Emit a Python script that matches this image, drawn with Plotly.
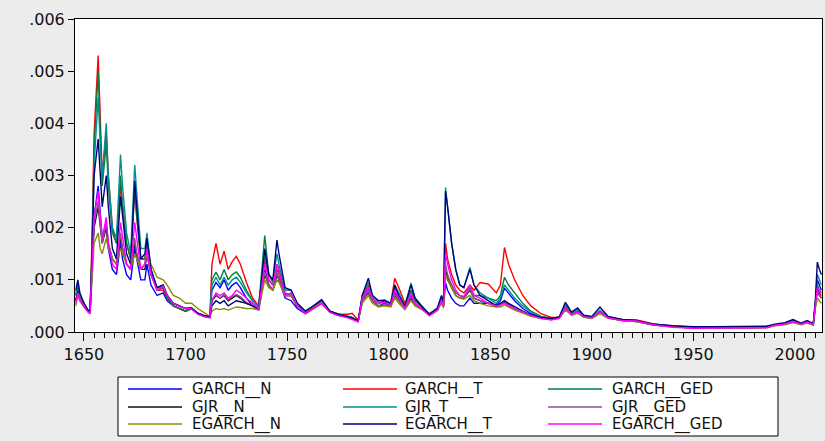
import plotly.graph_objects as go
import numpy as np

years = [1646,1647,1648,1650,1652,1653,1654,1655,1657,1658,
         1659,1661,1662,1664,1666,1668,1669,1671,1673,1675,
         1676,1678,1680,1681,1683,1686,1689,1691,1694,1697,
         1700,1703,1706,1709,1712,1713,1715,1717,1719,1721,
         1723,1725,1727,1730,1733,1736,1739,1741,1743,1745,
         1746,1749,1752,1755,1759,1763,1767,1771,1775,1780,
         1782,1785,1787,1790,1792,1795,1798,1801,1803,1805,
         1808,1811,1813,1816,1820,1824,1826,1827,1828,1829,
         1831,1833,1835,1837,1840,1842,1845,1849,1853,1855,
         1857,1859,1862,1866,1870,1875,1880,1884,1887,1890,
         1893,1896,1900,1904,1908,1915,1922,1930,1940,1950,
         1960,1970,1980,1986,1990,1995,1999,2003,2006,2009,
         2010,2011,2012,2013]

# values in units of 1e-4
garch_n = [7,9,7,5,4,3.6,12,22,28,22,
           18,20,16,12,11,17,14,11,10,16,
           14,10,10,13,9,7,7.5,6,5,4.5,
           4,4.5,3.5,3.0,2.8,8,9.5,8.5,10,8,
           9,9.5,8.5,6.5,5,4.2,12,9,8,11,
           10,6.5,6,4.5,3.5,4.5,5.5,3.8,3.2,2.8,
           2.6,2.1,6,8,6,5,5.5,5,7.5,6.5,
           4.5,7,5.5,4.5,3.3,4.2,6,5,9.4,8,
           6.5,5.5,5,5,6.5,5.5,5.5,5.5,5.2,6,
           8.4,7.5,6,4.5,3.5,2.8,2.6,2.8,5,3.5,
           4,3,2.8,4,2.8,2.3,2.1,1.5,1.1,0.9,
           0.9,0.9,0.9,1.0,1.4,1.6,2.2,1.6,2.0,1.5,
           5,10,9,8]
garch_t = [6,8,6.5,5,4,3.6,18,38,53,40,
           30,38,30,20,17,28,24,17,14,27,
           22,14,14,17,11,8,8,6.5,5,4.5,
           4,4.5,3.5,3.0,3.0,13,17,13,15.5,12,
           13.5,14.5,13,9.5,6.5,5,14,10,9,12,
           11,7,7,5,3.8,4.8,6,4,3.4,3.4,
           3.6,2.3,6.5,9,6.5,5.5,6,5.5,10.3,8.5,
           5.5,8,6,5,3.4,4.4,6.5,5.5,17,14,
           11,9,8,7.5,9,8,9.5,9.2,7.5,9,
           16.2,13,10,7,5,3.5,2.8,2.8,4.8,3.5,
           4,3,2.8,3.8,2.8,2.4,2.3,1.6,1.1,0.9,
           0.8,0.8,0.8,0.9,1.3,1.5,2.0,1.5,1.9,1.4,
           5,8.5,7.5,7]
garch_ged = [6,8,6.5,5,4,3.6,16,35,50,38,
             28,36,28,19,17,30,24,17,14,28,
             22,14,14,18,12,8,8.5,6.5,5,4.5,
             4,4.5,3.5,3.0,2.9,10,11.5,10,12,10,
             11,11.5,10.5,8,6,4.8,18.5,11,9.5,13,
             12,7.5,7,5,3.8,4.8,6,4,3.4,3.0,
             2.8,2.1,6.5,8.5,6.5,5.5,5.8,5.5,8.5,7,
             5,8,6,5,3.4,4.4,6.2,5.2,12,10.5,
             9,7.5,7,6.5,8.5,7,7,6.5,6,7,
             10.5,9,7.5,5.5,4,3.0,2.6,2.8,5,3.5,
             4,3,2.8,4,2.8,2.3,2.1,1.5,1.1,0.8,
             0.8,0.8,0.8,0.9,1.3,1.5,2.0,1.5,1.9,1.4,
             5,9,8,7.5]
gjr_n = [6,8,6.5,5,4,3.6,12,20,24,20,
         17,20,17,14,13,18,16,13,12,17,
         15,12,12,15,11,8.5,8.5,7,5.5,5,
         4.5,4.5,3.6,3.2,2.9,6,7,6.5,7,6,
         6.5,7,6.5,5.5,5,4.5,11,9,8,11,
         10,7,7,5,3.8,4.8,5.8,4,3.4,2.8,
         2.6,2.1,6,7.5,6,5,5.2,5,7,6,
         4.5,6.5,5.2,4.5,3.5,4.4,6,5,11.5,10,
         8.5,7,6.5,6.5,8,6.5,6,5.5,5,5.2,
         5.8,5.2,4.5,3.8,3.2,2.7,2.5,2.7,4.5,3.3,
         3.8,2.9,2.7,3.7,2.7,2.2,2.0,1.4,1.0,0.8,
         0.8,0.8,0.8,0.9,1.3,1.5,1.9,1.5,1.8,1.4,
         5,8,7,6.5]
gjr_t = [7,9.5,7,5.5,4.2,3.8,15,32,45,36,
         30,40,30,20,18,34,28,19,15,32,
         26,16,16,19,12,8.5,9,7,5.5,5,
         4.5,4.6,3.6,3.0,2.9,9,10.5,9,10.5,9,
         10,10.5,9.5,7.5,6,5,15,11,10,15,
         13,8,8,5.5,4,5,6.2,4,3.4,3.0,
         2.8,2.2,7,9.5,7,6,6.2,5.5,9,7.5,
         5,9.4,6.5,5.2,3.4,4.6,6.8,5.6,27.7,24,
         17,12,9,8.5,12.4,9,7.5,6.5,5.5,6.5,
         9,8,6.5,5,3.8,3.0,2.6,2.8,5.2,3.6,
         4.3,3.1,2.9,4.2,2.9,2.3,2.1,1.5,1.1,0.9,
         0.9,0.9,0.9,1.0,1.4,1.6,2.1,1.6,2.0,1.5,
         5.5,11,10,9]
gjr_ged = [6,7,6.5,5,4,3.6,12,21,25,21,
           17,21,17,14,13,19,16,13,12,18,
           15,12,13,15,11,8.5,8.5,7,5.5,5,
           4.5,4.5,3.6,3.2,2.9,6.2,7.2,6.5,7.2,6.2,
           6.8,7.2,6.8,5.7,5,4.5,11.5,9,8,11.5,
           10,7,7,5,3.8,4.8,5.8,4,3.4,2.8,
           2.6,2.1,6,7.8,6,5,5.3,5,7.2,6,
           4.5,6.8,5.2,4.5,3.5,4.4,6,5,13,11,
           9,7.5,7,6.5,8.2,6.5,6,5.5,5,5.2,
           5.9,5.2,4.5,3.8,3.2,2.7,2.5,2.7,4.5,3.3,
           3.8,2.9,2.7,3.7,2.7,2.2,2.0,1.4,1.0,0.8,
           0.8,0.8,0.8,0.9,1.3,1.5,1.9,1.5,1.8,1.4,
           5,8,7,6.5]
egarch_n = [5,7,6,4.8,4,3.6,10,17,19,16,
            15,18,16,14,13,16,15,13,12,15,
            14,12,13,15,13,10.5,10,9,7,6.5,
            5.5,5.5,4.5,3.8,3.0,4,4.5,4.3,4.5,4.2,
            4.5,4.8,4.7,4.5,4.5,4.2,10,8.5,8,10,
            9.5,7,7,5,4,4.8,5.5,4,3.5,2.8,
            2.6,2.1,5.5,7,5.5,4.8,5,4.8,6.5,5.5,
            4.3,6,5,4.3,3.5,4.2,5.5,4.6,11,10,
            8.5,7,6.5,6.3,7,6,5.5,5,4.8,4.8,
            5.2,4.8,4.2,3.6,3.0,2.6,2.4,2.6,4.2,3.2,
            3.6,2.8,2.6,3.5,2.6,2.2,2.0,1.4,1.0,0.7,
            0.7,0.7,0.7,0.8,1.2,1.4,1.8,1.4,1.7,1.3,
            4.5,6.5,6,5.5]
egarch_t = [8,10,7.5,5.5,4.2,3.8,15,30,37,30,
            24,30,24,16,14,26,22,15,13,29,
            24,14,15,18,12,8.5,9,7,5.5,5,
            4.5,4.6,3.6,3.2,2.9,5,6,5.5,6,5,
            5.5,6,5.8,5.5,5,4.6,16,11,10,17.6,
            15,8.5,8,5.5,4,5,6.2,4,3.4,3.0,
            2.7,2.2,7,10.3,7,6,6,5.5,9,7,
            5,9,6.5,5,3.4,4.6,7,5.8,27,24,
            17,12,9,8.5,12,9,7,6,5,5.5,
            6,5.5,4.8,4,3.3,2.8,2.6,2.9,5.7,3.8,
            4.6,3.2,3.0,4.8,3.0,2.4,2.2,1.5,1.2,1.0,
            1.0,1.0,1.0,1.1,1.5,1.8,2.4,1.7,2.2,1.6,
            6,13.4,12,11]
egarch_ged = [5.5,7.5,6,4.8,3.8,3.5,12,22,27,22,
              18,22,17,13,12,21,18,13,12,21,
              18,12,13,16,11,8,8.8,7,5.5,5,
              4.5,4.4,3.4,3.0,2.7,6,7.5,7,7.5,6.5,
              7,8,7.5,6.5,5.5,4.5,13,10,9,13,
              11.5,7,7.5,5,3.5,4.5,5.5,3.8,3.2,2.7,
              2.4,1.9,6.5,8.5,6.5,5.5,5.7,5.2,8,6.5,
              4.5,7.5,5.5,4.5,3.1,4.1,6,5,15,13,
              10,8,7,6.8,9,7,6.5,5.5,5,5.2,
              5.5,5,4.5,3.8,3.2,2.6,2.3,2.6,4.6,3.3,
              3.9,2.9,2.7,4,2.7,2.2,2.1,1.4,0.9,0.7,
              0.7,0.7,0.7,0.8,1.3,1.5,2.0,1.5,1.9,1.4,
              5,8.5,8,7.5]

series_names = ["GARCH__N", "GARCH__T", "GARCH__GED",
                "GJR__N", "GJR_T", "GJR__GED",
                "EGARCH__N", "EGARCH__T", "EGARCH__GED"]
series_values = [garch_n, garch_t, garch_ged, gjr_n, gjr_t, gjr_ged,
                 egarch_n, egarch_t, egarch_ged]
colors = ["#0000ff", "#ff0000", "#008040",
          "#111111", "#009090", "#905090",
          "#8c8c00", "#000080", "#ff00ff"]

y_ticks = [0.000, 0.001, 0.002, 0.003, 0.004, 0.005, 0.006]
y_tick_text = [".000", ".001", ".002", ".003", ".004", ".005", ".006"]
x_ticks = [1650, 1700, 1750, 1800, 1850, 1900, 1950, 2000]

W, H = 825, 441
L, R, T, B = 75, 3, 19, 109
PW, PH = W - L - R, H - T - B

def px(x):
    return (x - L) / PW

def py(y):
    return (H - B - y) / PH

fig = go.Figure()
for name, vals, col in zip(series_names, series_values, colors):
    fig.add_trace(go.Scatter(
        x=years, y=np.array(vals) * 1e-4, mode="lines", name=name,
        line=dict(color=col, width=1.4), showlegend=False))

font_main = "DejaVu Sans"
shapes = [dict(type="rect", xref="paper", yref="paper",
               x0=px(118), x1=px(778), y0=py(436), y1=py(377),
               line=dict(color="#000000", width=1), fillcolor="#ffffff", layer="below")]
annotations = []
col_line_x = [128, 343, 548]
col_text_x = [190, 403, 610]
row_y = [389, 407, 424]
for i, (name, col) in enumerate(zip(series_names, colors)):
    r, c = divmod(i, 3)
    shapes.append(dict(type="line", xref="paper", yref="paper",
                       x0=px(col_line_x[c]), x1=px(col_line_x[c] + 54),
                       y0=py(row_y[r]), y1=py(row_y[r]),
                       line=dict(color=col, width=1.5)))
    annotations.append(dict(xref="paper", yref="paper", x=px(col_text_x[c]), y=py(row_y[r]),
                            text=name, showarrow=False, xanchor="left", yanchor="middle",
                            font=dict(family=font_main, size=15, color="#111111")))

fig.update_layout(
    width=W, height=H,
    margin=dict(l=L, r=R, t=T, b=B),
    paper_bgcolor="#ececec", plot_bgcolor="#ffffff",
    font=dict(family=font_main, size=16, color="#111111"),
    shapes=shapes, annotations=annotations,
    xaxis=dict(range=[1645.6, 2013.3], tickvals=x_ticks, ticks="outside", ticklen=8,
               tickcolor="#000000", showgrid=False, zeroline=False,
               showline=True, linecolor="#000000", linewidth=1, mirror=True,
               tickfont=dict(family=font_main, size=16, color="#111111"),
               minor=dict(dtick=5, tick0=1650, ticks="outside", ticklen=5, tickcolor="#000000")),
    yaxis=dict(range=[0, 0.006], tickvals=y_ticks, ticktext=y_tick_text, ticks="outside",
               ticklen=6, tickcolor="#000000", showgrid=False, zeroline=False,
               showline=True, linecolor="#000000", linewidth=1, mirror=True,
               tickfont=dict(family=font_main, size=16, color="#111111")),
)

fig.write_html("out.html", config={"displayModeBar": False},
               post_script="document.body.style.margin='0px';document.body.style.overflow='hidden';")
